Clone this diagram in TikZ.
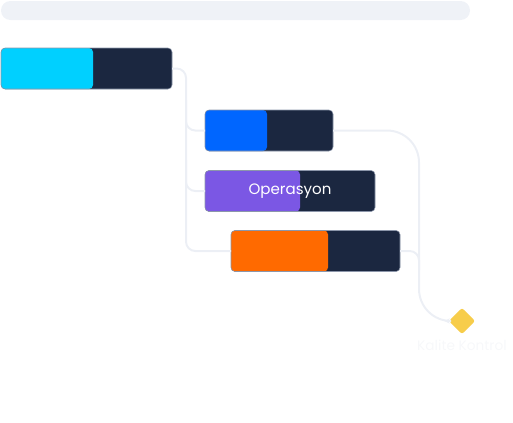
\documentclass[tikz,border=0pt]{standalone}
\usepackage{fontspec}
\setmainfont{Poppins}
\usetikzlibrary{arrows.meta,shapes.geometric}
\definecolor{navy}{HTML}{1B2740}
\definecolor{cyanC}{HTML}{00D0FF}
\definecolor{blueC}{HTML}{0066FF}
\definecolor{purpleC}{HTML}{7B57E4}
\definecolor{orangeC}{HTML}{FF6A00}
\definecolor{yellowC}{HTML}{F7CD4B}
\definecolor{connC}{HTML}{ECEFF5}
\definecolor{trackC}{HTML}{EFF2F7}
\definecolor{edgeC}{HTML}{8C96AA}
\definecolor{faintC}{HTML}{F7F8FA}
\tikzset{
  barbox/.style={draw=edgeC, line width=0.4pt, fill=navy, rounded corners=3pt,
    minimum height=30.75pt, inner sep=0pt, outer sep=0pt},
  leftpart/.style 2 args={path picture={\fill[#1] (path picture bounding box.south west) rectangle ([xshift=#2]path picture bounding box.north west);}},
  conn/.style={draw=connC, line width=1.5pt, rounded corners=7pt},
}
\begin{document}
\begin{tikzpicture}[x=0.75pt,y=-0.75pt]
\useasboundingbox (0,0) rectangle (513,422);
% track
\node[fill=trackC, rounded corners=7pt, minimum width=351.75pt, minimum height=14.25pt, inner sep=0pt] (track) at (235.5,10.5) {};
% connectors
\coordinate (lv1) at (186,100);
\coordinate (lv2) at (186,160);
\coordinate (rv) at (419,270);
\node[barbox, minimum width=128.25pt, leftpart={cyanC}{69pt}] (bar1) at (86.5,68.5) {};
\node[barbox, minimum width=96pt, leftpart={blueC}{46.5pt}] (bar2) at (269,130.5) {};
\node[barbox, minimum width=127.5pt, leftpart={purpleC}{71.25pt}] (bar3) at (290,191) {};
\node[barbox, minimum width=126.75pt, leftpart={orangeC}{72.75pt}] (bar4) at (315.5,251) {};
\node[diamond, fill=yellowC, minimum width=20pt, minimum height=20pt, inner sep=0pt, rounded corners=2pt] (dia) at (462,321) {};
\node[text=faintC, font=\fontsize{10.3pt}{12pt}\selectfont] (lbl) at (462,345) {Kalite Kontrol};
\node[text=white, font=\fontsize{11.3pt}{13pt}\selectfont] (t3) at (290,191.5) {Operasyon};
\path[conn] (bar1.east) -| (186,251) -- (bar4.west);
\path[conn] (lv1) |- (bar2.west);
\path[conn] (lv2) |- (bar3.west);
\path[conn] (bar4.east) -| (rv);
\draw[connC, line width=1.5pt, rounded corners=24pt, -{Stealth[length=4pt,width=4pt]}] (bar2.east) -| (419,321) -- ([xshift=-3pt]dia.west);
\end{tikzpicture}
\end{document}
